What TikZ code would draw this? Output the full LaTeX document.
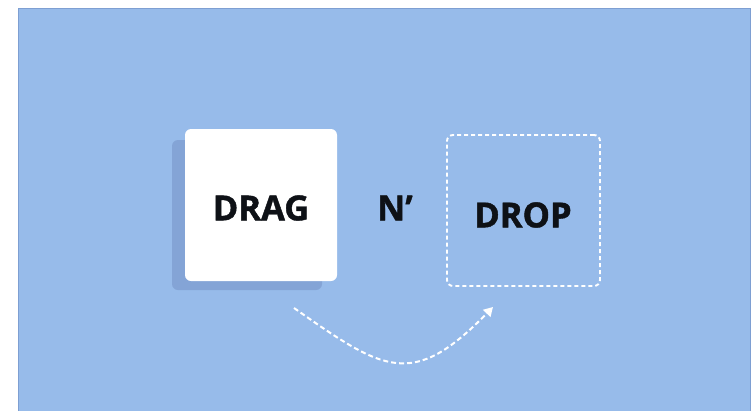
\documentclass[tikz,border=0pt]{standalone}
\usepackage{fontspec}
\setmainfont{Open Sans}
\newfontfamily\heavy[FakeBold=1.2]{Open Sans Bold}
\usetikzlibrary{arrows.meta}
\definecolor{bgblue}{HTML}{97BBEA}
\definecolor{edgeblue}{HTML}{7E9FD2}
\definecolor{shadowblue}{HTML}{84A4D6}
\definecolor{txt}{HTML}{0E1116}
\tikzset{
  lbl/.style={font=\heavy\fontsize{34.5}{34.5}\selectfont, text=txt, inner sep=0pt},
  dashline/.style={draw=white, line width=1.9pt, dash pattern=on 4pt off 3pt},
}
\begin{document}
\begin{tikzpicture}[x=1pt,y=-1pt]
\useasboundingbox (0,0) rectangle (753,410);
\fill[white] (0,0) rectangle (753,410);
\fill[bgblue] (18,8) rectangle (750,412);
\draw[edgeblue, line width=0.8pt] (18,412) -- (18,8) -- (750,8) -- (750,412);
% shadow
\fill[shadowblue, rounded corners=6pt] (172,140) rectangle (322,290);
% card
\node[fill=white, rounded corners=6pt, minimum width=152pt, minimum height=152pt, inner sep=0pt] (card) at (261,205) {};
\node[lbl] (drag) at (261,208) {DRAG};
\node[lbl] (n) at (395,208) {N’};
% drop box
\node[dashline, rounded corners=6pt, minimum width=153pt, minimum height=151pt, inner sep=0pt] (box) at (523.5,210.5) {};
\node[lbl] (drop) at (523,215) {DROP};
% arc
\coordinate (s) at (294,308);
\coordinate (e) at (493,307);
\draw[white, line width=2pt, dash pattern=on 5pt off 3pt, -{Triangle[width=10pt,length=9pt]}] (s) .. controls (384,371) and (412,390) .. (e);
\end{tikzpicture}
\end{document}
